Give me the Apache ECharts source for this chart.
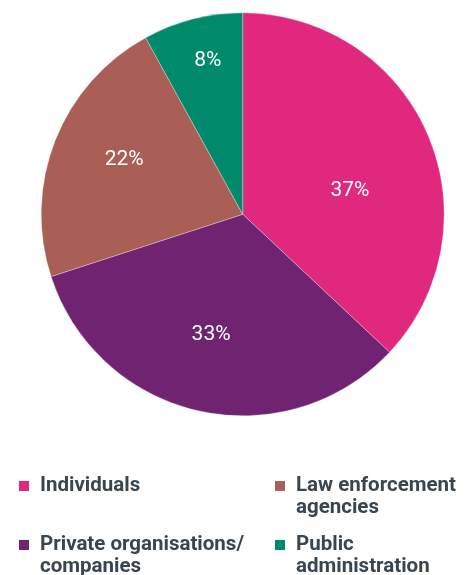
<!DOCTYPE html>
<html>
<head>
<meta charset="utf-8">
<script src="https://cdn.jsdelivr.net/npm/echarts@6/dist/echarts.min.js"></script>
<style>
  html, body { margin: 0; padding: 0; background: #fff; }
  #chart { width: 472px; height: 575px; }
</style>
</head>
<body>
<div id="chart"></div>
<script>
// Share of requests by requester type (percent), clockwise from 12 o'clock
const categories = [
  'Individuals',
  'Private organisations/\ncompanies',
  'Law enforcement\nagencies',
  'Public administration'
];
const shares = [37, 33, 22, 8];
const colors = ['#E0287F', '#6F2370', '#A95E56', '#00896B'];

// Legend order: two columns, read row by row
const legendOrder = [0, 2, 1, 3];

// Nudges for the in-slice percentage labels (dx, dy in px)
const labelNudge = [[12, 18], [-9, 19], [-22, -16], [-9, -53]];

// Legend: two-line labels for wrapped names
const legendWrap = {
  'Law enforcement\nagencies': ['Law enforcement', 'agencies'],
  'Private organisations/\ncompanies': ['Private organisations/', 'companies'],
  'Public administration': ['Public', 'administration']
};

const chart = echarts.init(document.getElementById('chart'), null, { renderer: 'canvas' });

const rich = {
  gap: { width: 11, height: 10 },
  pad: { width: 21, height: 10 },
  t: { fontFamily: 'Roboto', fontWeight: 'bold', fontSize: 20.5, color: '#3A4550', lineHeight: 22 }
};
colors.forEach((c, i) => {
  rich['sq' + i] = { width: 10, height: 10, backgroundColor: c };
});

function legendFormatter(name) {
  const i = categories.indexOf(name);
  const lines = legendWrap[name] || [name];
  let s = '{sq' + i + '|}{gap|}{t|' + lines[0] + '}';
  if (lines[1]) s += '\n{pad|}{t|' + lines[1] + '}';
  return s;
}

const legendPos = [
  { left: 14, top: 475 },
  { left: 270, top: 475 },
  { left: 14, top: 534 },
  { left: 270, top: 534 }
];

const legends = legendOrder.map((idx, k) => ({
  data: [categories[idx]],
  left: legendPos[k].left,
  top: legendPos[k].top,
  padding: 0,
  icon: 'none',
  itemWidth: 0,
  itemHeight: 0,
  selectedMode: false,
  formatter: legendFormatter,
  textStyle: { rich: rich, color: '#3A4550', fontFamily: 'Roboto', fontWeight: 'bold', fontSize: 20.5, lineHeight: 22 }
}));

chart.setOption({
  animation: false,
  color: colors,
  legend: legends,
  series: [{
    type: 'pie',
    center: [242.7, 214.3],
    radius: 201.5,
    startAngle: 90,
    clockwise: true,
    data: categories.map((name, i) => ({ name: name, value: shares[i] })),
    itemStyle: { borderColor: 'rgba(255,255,255,0.6)', borderWidth: 0.5 },
    label: {
      show: true,
      position: 'inside',
      formatter: '{c}%',
      color: '#fff',
      fontFamily: 'Roboto',
      fontWeight: 'normal',
      fontSize: 21
    },
    labelLine: { show: false },
    labelLayout: function (p) {
      const n = labelNudge[p.dataIndex];
      return { dx: n[0], dy: n[1] };
    },
    emphasis: { disabled: true },
    silent: true
  }]
});
</script>
</body>
</html>
